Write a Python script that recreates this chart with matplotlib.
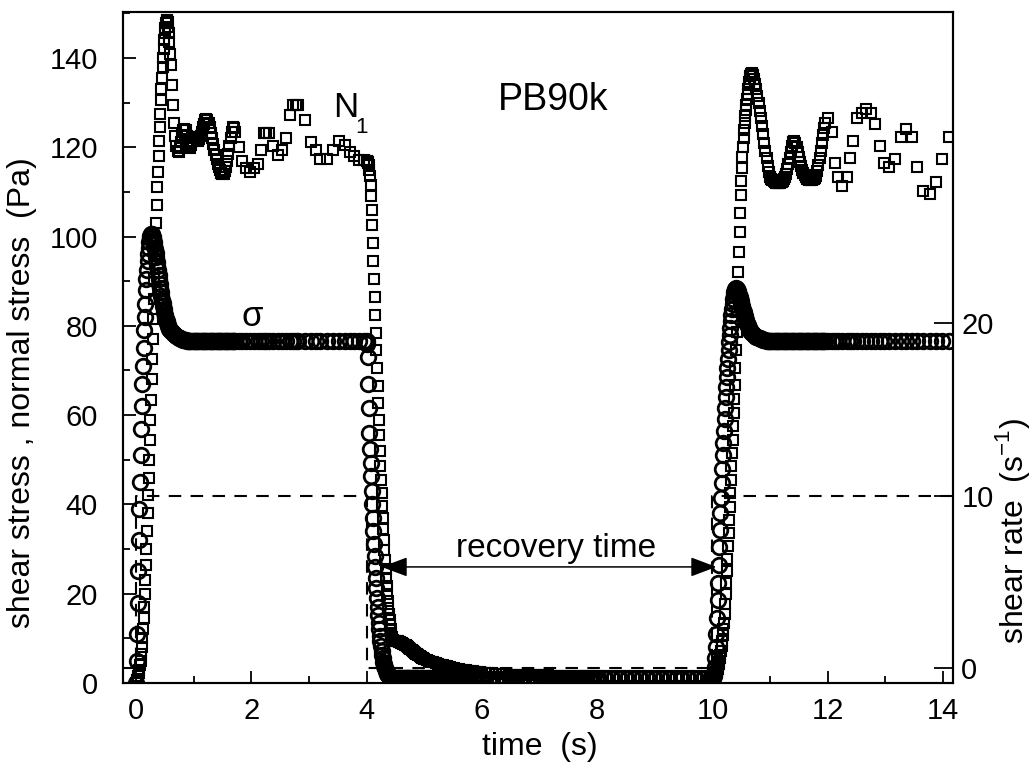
import numpy as np
import matplotlib
matplotlib.use("Agg")
import matplotlib.pyplot as plt
from matplotlib.ticker import MultipleLocator, FixedLocator

plt.rcParams["font.family"] = ["Liberation Sans", "DejaVu Sans"]
plt.rcParams["mathtext.fontset"] = "custom"
plt.rcParams["mathtext.rm"] = "Liberation Sans"

# --- shear start-up, 0 .. 4 s ---------------------------------------------
t_start = [0.00, 0.01, 0.02, 0.03, 0.04, 0.05, 0.06, 0.07, 0.08, 0.09,
           0.10, 0.11, 0.12, 0.13, 0.14, 0.15, 0.16, 0.17, 0.18, 0.19,
           0.20, 0.21, 0.22, 0.23, 0.24, 0.25, 0.26, 0.27, 0.28, 0.29,
           0.30, 0.31, 0.32, 0.33, 0.34, 0.35, 0.36, 0.37, 0.38, 0.39,
           0.40, 0.41, 0.42, 0.43, 0.44, 0.45, 0.46, 0.47, 0.48, 0.49,
           0.50, 0.51, 0.52, 0.53, 0.54, 0.55, 0.56, 0.57, 0.58, 0.59,
           0.60, 0.62, 0.64, 0.66, 0.68, 0.70, 0.72, 0.74, 0.76, 0.78,
           0.80, 0.82, 0.84, 0.86, 0.88, 0.90, 0.92, 0.94, 0.96, 0.98,
           1.00, 1.02, 1.04, 1.06, 1.08, 1.10, 1.12, 1.14, 1.16, 1.18,
           1.20, 1.22, 1.24, 1.26, 1.28, 1.30, 1.32, 1.34, 1.36, 1.38,
           1.40, 1.42, 1.44, 1.46, 1.48, 1.50, 1.52, 1.54, 1.56, 1.58,
           1.60, 1.62, 1.64, 1.66, 1.68, 1.70, 1.72, 1.78, 1.84, 1.90,
           1.97, 2.04, 2.11, 2.17, 2.22, 2.26, 2.30, 2.38, 2.46, 2.53,
           2.60, 2.67, 2.73, 2.77, 2.81, 2.94, 3.04, 3.12, 3.20, 3.31,
           3.42, 3.53, 3.63, 3.71, 3.79, 3.87, 3.96]
n1_start = [0, 0.3, 0.6, 1, 1.5, 2.2, 3, 4, 5, 6.5,
            8, 10, 12, 14.5, 17, 20, 23, 26.5, 30, 34,
            38, 42, 46, 50, 54.5, 59, 63.5, 68, 72.5, 77,
            81.5, 86, 90.5, 95, 99, 103, 107, 111, 114.5, 118,
            121.5, 124.5, 127.5, 130.5, 133, 135.5, 138, 140, 142, 144,
            145.5, 146.8, 147.8, 148.3, 148.5, 148, 147, 145.5, 143.5, 141,
            138.5, 134, 129.5, 125.5, 122.5, 120.3, 119.2, 119, 119.8, 121.2,
            122.8, 123.8, 124.2, 123.8, 122.5, 121, 120, 119.8, 120.5, 121.5,
            122.3, 122.2, 122, 121.7, 121.5, 121.9, 122.5, 123.5, 124.5, 125.3,
            126, 126.3, 126.2, 125.5, 124.5, 123.3, 122, 120.7, 119.5, 118.3,
            117.3, 116.3, 115.5, 114.8, 114.3, 114, 114, 114.6, 115.5, 116.9,
            118.5, 120.3, 122, 123.5, 124.5, 124.3, 123.5, 120, 117, 115.3,
            114.5, 115.3, 116.2, 119.4, 123.1, 123.1, 123.1, 120.3, 118.3, 119.4,
            122, 127.2, 129.5, 129.5, 129.5, 126.1, 121.2, 119.4, 117.3, 117.3,
            119.4, 121.5, 120.5, 119, 118, 117.1, 117.1]
sigma_start = [0, 5, 11, 18, 25, 32, 39, 45, 51, 57,
               62, 67, 71, 75, 79, 82, 85, 88, 90.5, 92.5,
               94.5, 96, 97.5, 98.7, 99.6, 100.2, 100.5, 100.5, 100.3, 99.9,
               99.3, 98.7, 98, 97.2, 96.3, 95.4, 94.4, 93.4, 92.4, 91.4,
               90.4, 89.4, 88.5, 87.6, 86.7, 85.9, 85.1, 84.4, 83.7, 83.1,
               82.5, 82, 81.5, 81, 80.6, 80.2, 79.9, 79.6, 79.3, 79,
               78.8, 78.6, 78.3, 78.1, 77.9, 77.7, 77.5, 77.3, 77.2, 77.1,
               77, 76.9, 76.8, 76.8, 76.7, 76.7, 76.7, 76.6, 76.6, 76.6,
               76.6, 76.6, 76.6, 76.6, 76.6, 76.6, 76.6, 76.6, 76.6, 76.6,
               76.6, 76.6, 76.6, 76.6, 76.6, 76.6, 76.6, 76.6, 76.6, 76.6,
               76.6, 76.6, 76.6, 76.6, 76.6, 76.6, 76.6, 76.6, 76.6, 76.6,
               76.6, 76.6, 76.6, 76.6, 76.6, 76.6, 76.6, 76.6, 76.6, 76.6,
               76.6, 76.6, 76.6, 76.6, 76.6, 76.6, 76.6, 76.6, 76.6, 76.6,
               76.6, 76.6, 76.6, 76.6, 76.6, 76.6, 76.6, 76.6, 76.6, 76.6,
               76.6, 76.6, 76.6, 76.6, 76.6, 76.6, 76.6]

# --- cessation of shear (recovery), 4 .. 10 s ---------------------------------
t_stop = [4.00, 4.01, 4.02, 4.03, 4.04, 4.05, 4.06, 4.07, 4.08, 4.09,
          4.10, 4.11, 4.12, 4.13, 4.14, 4.15, 4.16, 4.17, 4.18, 4.19,
          4.20, 4.21, 4.22, 4.23, 4.24, 4.25, 4.26, 4.27, 4.28, 4.29,
          4.30, 4.31, 4.32, 4.33, 4.34, 4.35, 4.36, 4.37, 4.38, 4.39,
          4.40, 4.41, 4.42, 4.43, 4.44, 4.46, 4.48, 4.50, 4.52, 4.54,
          4.56, 4.58, 4.60, 4.62, 4.64, 4.66, 4.68, 4.70, 4.72, 4.74,
          4.76, 4.78, 4.80, 4.82, 4.84, 4.86, 4.88, 4.90, 4.92, 4.94,
          4.96, 4.98, 5.00, 5.04, 5.08, 5.12, 5.16, 5.20, 5.24, 5.28,
          5.32, 5.36, 5.40, 5.44, 5.48, 5.52, 5.56, 5.60, 5.64, 5.68,
          5.72, 5.76, 5.80, 5.84, 5.88, 5.92, 5.96, 6.00, 6.06, 6.12,
          6.18, 6.24, 6.30, 6.36, 6.42, 6.48, 6.54, 6.60, 6.66, 6.72,
          6.78, 6.84, 6.90, 6.96, 7.02, 7.08, 7.14, 7.20, 7.26, 7.32,
          7.38, 7.44, 7.50, 7.56, 7.62, 7.68, 7.74, 7.80, 7.86, 7.92,
          7.98, 8.04, 8.16, 8.28, 8.40, 8.52, 8.64, 8.76, 8.88, 9.00,
          9.12, 9.24, 9.36, 9.48, 9.60, 9.72, 9.84, 9.96]
n1_stop = [117, 117, 116.8, 116.5, 116, 115, 113.5, 111.5, 109, 106,
           102.5, 98.5, 94.5, 90.5, 86.5, 82.5, 78.5, 74.5, 70.5, 66.5,
           62.7, 59, 55.5, 52, 48.7, 45.5, 42.5, 39.7, 37, 34.5,
           32, 29.7, 27.5, 25.5, 23.5, 21.7, 20, 18.4, 16.9, 15.5,
           14.2, 13, 12, 11.1, 10.3, 9.7, 9.4, 9.3, 9.3, 9.3,
           9.2, 9.1, 9.0, 8.9, 8.7, 8.6, 8.4, 8.2, 8.0, 7.8,
           7.6, 7.4, 7.2, 7.0, 6.8, 6.6, 6.4, 6.2, 6.0, 5.9,
           5.7, 5.5, 5.4, 5.2, 5.0, 4.8, 4.6, 4.4, 4.3, 4.1,
           4.0, 3.8, 3.7, 3.6, 3.4, 3.3, 3.2, 3.1, 3.0, 2.9,
           2.8, 2.7, 2.6, 2.6, 2.5, 2.4, 2.4, 2.3, 2.3, 2.2,
           2.2, 2.1, 2.1, 2.0, 2.0, 1.9, 1.9, 1.9, 1.8, 1.8,
           1.8, 1.8, 1.7, 1.7, 1.7, 1.7, 1.7, 1.6, 1.6, 1.6,
           1.6, 1.6, 1.6, 1.6, 1.5, 1.6, 1.5, 1.6, 1.5, 1.6,
           1.5, 1.5, 1.5, 1.6, 1.5, 1.5, 1.6, 1.5, 1.5, 1.6,
           1.5, 1.5, 1.6, 1.5, 1.5, 1.6, 1.5, 1.5]
sigma_stop = [76.6, 76, 73, 67, 61.5, 56, 52.5, 49.3, 46.3, 43,
              40, 37, 34, 31.2, 28.5, 26, 23.5, 21.2, 19, 17,
              15.2, 13.5, 12, 10.6, 9.3, 8.2, 7.2, 6.3, 5.5, 4.8,
              4.2, 3.7, 3.3, 2.9, 2.6, 2.3, 2.1, 1.9, 1.7, 1.6,
              1.5, 1.4, 1.3, 1.3, 1.2, 1.2, 1.2, 1.2, 1.2, 1.2,
              1.2, 1.2, 1.2, 1.2, 1.2, 1.2, 1.2, 1.2, 1.2, 1.2,
              1.2, 1.2, 1.2, 1.2, 1.2, 1.2, 1.2, 1.2, 1.2, 1.2,
              1.2, 1.2, 1.2, 1.1, 1.1, 1.1, 1.1, 1.1, 1.1, 1.1,
              1.1, 1.1, 1.1, 1.1, 1.1, 1.1, 1.1, 1.1, 1.1, 1.1,
              1.1, 1.1, 1.1, 1.1, 1.1, 1.1, 1.1, 1.1, 1.0, 1.0,
              1.0, 1.0, 1.0, 1.0, 1.0, 1.0, 1.0, 1.0, 1.0, 1.0,
              1.0, 1.0, 1.0, 1.0, 1.0, 1.0, 1.0, 1.0, 1.0, 1.0,
              1.0, 1.0, 1.0, 1.0, 1.0, 1.0, 1.0, 1.0, 1.0, 1.0,
              1.0, 1.0, 1.0, 1.0, 1.0, 1.0, 1.0, 1.0, 1.0, 1.0,
              1.0, 1.0, 1.0, 1.0, 1.0, 1.0, 1.0, 1.0]

# --- restart of shear, 10 .. 14 s -------------------------------------------
t_restart = [10.00, 10.01, 10.02, 10.03, 10.04, 10.05, 10.06, 10.07, 10.08, 10.09,
             10.10, 10.11, 10.12, 10.13, 10.14, 10.15, 10.16, 10.17, 10.18, 10.19,
             10.20, 10.21, 10.22, 10.23, 10.24, 10.25, 10.26, 10.27, 10.28, 10.29,
             10.30, 10.31, 10.32, 10.33, 10.34, 10.35, 10.36, 10.37, 10.38, 10.39,
             10.40, 10.41, 10.42, 10.43, 10.44, 10.45, 10.46, 10.47, 10.48, 10.49,
             10.50, 10.51, 10.52, 10.53, 10.54, 10.55, 10.56, 10.57, 10.58, 10.59,
             10.60, 10.61, 10.62, 10.63, 10.64, 10.65, 10.66, 10.67, 10.68, 10.69,
             10.70, 10.72, 10.74, 10.76, 10.78, 10.80, 10.82, 10.84, 10.86, 10.88,
             10.90, 10.92, 10.94, 10.96, 10.98, 11.00, 11.02, 11.04, 11.06, 11.08,
             11.10, 11.12, 11.14, 11.16, 11.18, 11.20, 11.22, 11.24, 11.26, 11.28,
             11.30, 11.32, 11.34, 11.36, 11.38, 11.40, 11.42, 11.44, 11.46, 11.48,
             11.50, 11.52, 11.54, 11.56, 11.58, 11.60, 11.62, 11.64, 11.66, 11.68,
             11.70, 11.72, 11.74, 11.76, 11.78, 11.80, 11.82, 11.84, 11.86, 11.88,
             11.90, 11.92, 11.94, 11.96, 12.01, 12.07, 12.13, 12.18, 12.24, 12.33,
             12.39, 12.44, 12.51, 12.59, 12.66, 12.75, 12.82, 12.90, 12.98, 13.07,
             13.17, 13.27, 13.36, 13.46, 13.55, 13.66, 13.77, 13.88, 13.99, 14.11]
n1_restart = [1.5, 1.5, 1.6, 1.7, 1.8, 2.0, 2.2, 2.5, 2.8, 3.2,
              3.7, 4.2, 4.8, 5.5, 6.3, 7.2, 8.3, 9.5, 10.8, 12.1,
              13.5, 15.5, 17.7, 20, 22.5, 25.1, 27.8, 30.6, 33.5, 36.5,
              39.5, 42.5, 45.5, 48.5, 51.5, 54.5, 57.5, 60.5, 63.6, 66.7,
              70.5, 74.5, 78.7, 83, 87.5, 92, 96.5, 101, 105.3, 109.3,
              112.5, 115.3, 117.8, 120, 122, 123.8, 125.5, 127, 128.3, 129.5,
              130.8, 132, 133, 133.9, 134.7, 135.4, 136, 136.4, 136.6, 136.5,
              136.2, 135.3, 134.2, 133, 131.5, 129.9, 128.2, 126.5, 124.7, 122.9,
              121, 119.2, 117.5, 115.9, 114.5, 113.4, 112.9, 112.6, 112.4, 112.2,
              112.1, 112, 112, 112, 112.1, 112.2, 112.4, 112.8, 113.3, 114,
              115.1, 116.3, 117.6, 119, 120.3, 121.2, 121.4, 121, 120.1, 119,
              117.9, 116.8, 115.8, 115, 114.3, 113.8, 113.4, 113, 112.8, 112.7,
              112.7, 112.7, 112.8, 112.9, 113.2, 113.6, 114.6, 116, 117.6, 119.2,
              121, 122.8, 124.3, 125.5, 126.5, 123.5, 116.4, 113.4, 111.3, 113.4,
              117.5, 121.5, 126.5, 127.6, 128.5, 127.6, 125.3, 120.3, 116.4, 115.5,
              117.3, 122.3, 124.2, 122.3, 115.5, 110.3, 109.5, 112.3, 117.3, 122.3]
sigma_restart = [1.0, 1.2, 1.5, 2.2, 3.5, 5.5, 8, 11, 14.5, 18.5,
                 22.5, 26.5, 30.5, 34.3, 38, 41.5, 44.8, 48, 51, 53.8,
                 56.5, 59.1, 61.6, 64, 66.3, 68.5, 70.6, 72.6, 74.5, 76.3,
                 78, 79.6, 81.1, 82.5, 83.8, 85, 86, 86.8, 87.5, 88,
                 88.3, 88.4, 88.3, 88.1, 87.8, 87.4, 87, 86.5, 86, 85.5,
                 85, 84.5, 84, 83.5, 83, 82.5, 82.1, 81.7, 81.3, 80.9,
                 80.5, 80.2, 79.9, 79.6, 79.3, 79.1, 78.9, 78.7, 78.5, 78.3,
                 78.2, 78, 77.8, 77.6, 77.5, 77.3, 77.2, 77.1, 77, 76.9,
                 76.8, 76.8, 76.7, 76.7, 76.6, 76.6, 76.6, 76.6, 76.6, 76.6,
                 76.6, 76.6, 76.6, 76.6, 76.6, 76.6, 76.6, 76.6, 76.6, 76.6,
                 76.6, 76.6, 76.6, 76.6, 76.6, 76.6, 76.6, 76.6, 76.6, 76.6,
                 76.6, 76.6, 76.6, 76.6, 76.6, 76.6, 76.6, 76.6, 76.6, 76.6,
                 76.6, 76.6, 76.6, 76.6, 76.6, 76.6, 76.6, 76.6, 76.6, 76.6,
                 76.6, 76.6, 76.6, 76.6, 76.6, 76.6, 76.6, 76.6, 76.6, 76.6,
                 76.6, 76.6, 76.6, 76.6, 76.6, 76.6, 76.6, 76.6, 76.6, 76.6,
                 76.6, 76.6, 76.6, 76.6, 76.6, 76.6, 76.6, 76.6, 76.6, 76.6]

# imposed shear rate (right axis), step profile
t_rate = [-0.25, 0.0, 0.0, 4.0, 4.0, 10.0, 10.0, 14.3]
rate = [0, 0, 10, 10, 0, 0, 10, 10]

for a, b, c in [(t_start, n1_start, sigma_start),
                (t_stop, n1_stop, sigma_stop),
                (t_restart, n1_restart, sigma_restart)]:
    assert len(a) == len(b) == len(c), (len(a), len(b), len(c))

time = np.concatenate([t_start, t_stop, t_restart])
n1 = np.concatenate([n1_start, n1_stop, n1_restart])
sigma = np.concatenate([sigma_start, sigma_stop, sigma_restart])

fig = plt.figure(figsize=(10.33, 7.69), dpi=100)
ax = fig.add_axes([123 / 1033, 1 - 683 / 769, 830 / 1033, 671 / 769])

ax.plot(time, n1, "s", ms=7, mfc="none", mec="black", mew=1.5, zorder=3)
ax.plot(time, sigma, "o", ms=10.5, mfc="none", mec="black", mew=2.0, zorder=3)

ax.set_xlim(-0.226, 14.174)
ax.set_ylim(0, 150.3)
ax.xaxis.set_major_locator(MultipleLocator(2))
ax.xaxis.set_minor_locator(MultipleLocator(1))
ax.yaxis.set_major_locator(MultipleLocator(20))
ax.yaxis.set_minor_locator(MultipleLocator(10))
ax.tick_params(which="both", direction="in", top=False, right=False, width=1.3)
ax.tick_params(which="major", length=9, labelsize=21)
ax.tick_params(which="minor", length=5)
ax.tick_params(axis="y", pad=18)
ax.tick_params(axis="x", pad=10)
for s in ax.spines.values():
    s.set_linewidth(1.5)

ax2 = ax.twinx()
ax2.plot(t_rate, rate, color="black", lw=1.5, linestyle=(0, (6, 4.5)))
ax2.set_ylim(-0.85, 38.0)
ax2.yaxis.set_major_locator(FixedLocator([0, 10, 20]))
ax2.tick_params(axis="y", direction="in", length=14, width=1.3, labelsize=21, pad=6)
for s in ax2.spines.values():
    s.set_linewidth(1.5)

ax.annotate("", xy=(4.26, 26), xytext=(10.07, 26),
            arrowprops=dict(arrowstyle="<|-|>,head_length=0.8,head_width=0.3",
                            color="black", lw=1.1, shrinkA=0, shrinkB=0,
                            mutation_scale=20))
ax.text(7.29, 28.2, "recovery time", ha="center", va="baseline", fontsize=24)
ax.text(7.23, 130.6, "PB90k", ha="center", va="center", fontsize=27)
ax.text(3.64, 128.9, "N", ha="center", va="center", fontsize=25)
ax.text(3.91, 124.5, "1", ha="center", va="center", fontsize=16)
ax.text(2.02, 82, "σ", ha="center", va="center", fontsize=25)

fig.text(540 / 1033, 1 - 747 / 769, "time  (s)", ha="center", va="center", fontsize=23)
fig.text(22 / 1033, 0.49, "shear stress , normal stress  (Pa)", rotation=90,
         ha="center", va="center", fontsize=23)
fig.text(1012 / 1033, 0.3095, r"shear rate  (s$^{\mathregular{-1}}$)", rotation=90,
         ha="center", va="center", fontsize=23)

fig.savefig("out.png", dpi=100)
plt.close(fig)
